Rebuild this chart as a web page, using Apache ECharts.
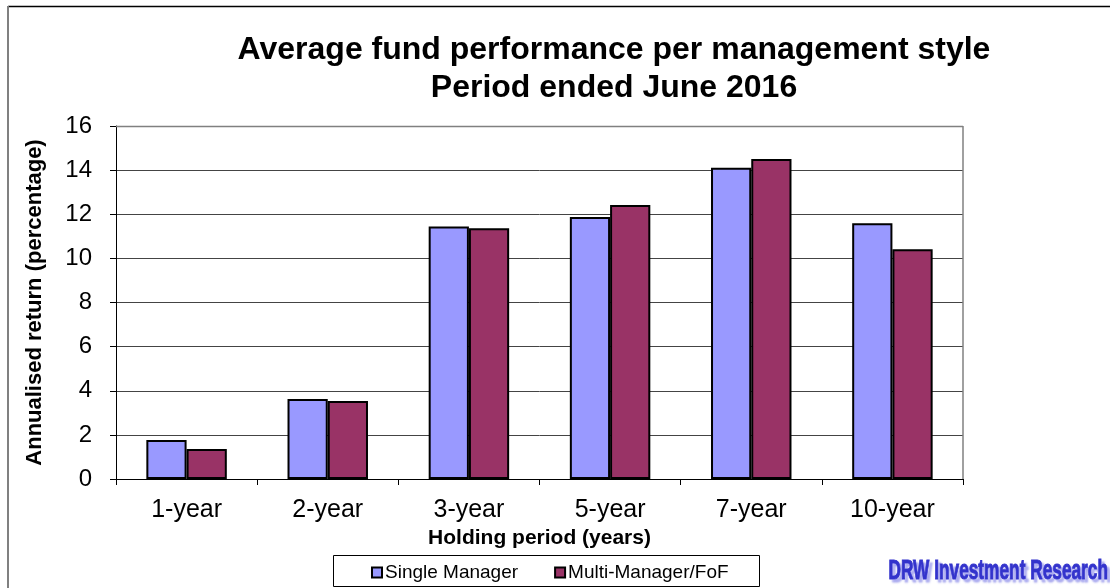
<!DOCTYPE html>
<html>
<head>
<meta charset="utf-8">
<script src="https://cdn.jsdelivr.net/npm/echarts@6/dist/echarts.min.js"></script>
<style>
html, body { margin: 0; padding: 0; background: #fff; }
#main { width: 1110px; height: 588px; }
</style>
</head>
<body>
<div id="main"></div>
<script>
// data
var categories = ['1-year', '2-year', '3-year', '5-year', '7-year', '10-year'];
var singleManager = [1.77, 3.63, 11.44, 11.88, 14.11, 11.59];
var multiManager = [1.36, 3.54, 11.36, 12.42, 14.50, 10.41];
var yTicks = [0, 2, 4, 6, 8, 10, 12, 14, 16];

var myChart = echarts.init(document.getElementById('main'));
var font = 'Arial, "Liberation Sans", sans-serif';

var option = {
    backgroundColor: '#fff',
    animation: false,
    title: {
        text: 'Average fund performance per management style\nPeriod ended June 2016',
        left: 609,
        textAlign: 'center',
        top: 26,
        textStyle: {
            fontFamily: font,
            fontSize: 32,
            fontWeight: 'bold',
            color: '#000',
            lineHeight: 38
        }
    },
    legend: {
        data: ['Single Manager', 'Multi-Manager/FoF'],
        left: 366,
        top: 558,
        icon: 'rect',
        itemWidth: 10,
        itemHeight: 10,
        itemGap: 36,
        textStyle: { fontFamily: font, fontSize: 19, color: '#000', padding: [0, 0, 0, -2] }
    },
    grid: { left: 116, top: 126, right: 147, bottom: 109 },
    xAxis: {
        type: 'category',
        data: categories,
        name: 'Holding period (years)',
        nameLocation: 'middle',
        nameGap: 47,
        nameTextStyle: { fontFamily: font, fontSize: 21, fontWeight: 'bold', color: '#000' },
        axisLine: { lineStyle: { color: '#000', width: 1 } },
        axisTick: { show: true, length: 6, lineStyle: { color: '#000' } },
        axisLabel: { fontFamily: font, fontSize: 25, color: '#000', margin: 19 },
        splitLine: { show: false }
    },
    yAxis: {
        type: 'value',
        min: yTicks[0],
        max: yTicks[yTicks.length - 1],
        interval: 2,
        name: 'Annualised return (percentage)',
        nameLocation: 'middle',
        nameGap: 70,
        nameTextStyle: { fontFamily: font, fontSize: 22, fontWeight: 'bold', color: '#000' },
        axisLine: { show: true, lineStyle: { color: '#000', width: 1 } },
        axisTick: { show: true, length: 6, lineStyle: { color: '#000' } },
        axisLabel: { fontFamily: font, fontSize: 24, color: '#000', margin: 24 },
        splitLine: { show: true, lineStyle: { color: '#444', width: 1 } }
    },
    series: [{
        name: 'Single Manager',
        type: 'bar',
        data: singleManager,
        barGap: '0%',
        barCategoryGap: '43%',
        itemStyle: { color: '#9999ff', borderColor: '#000', borderWidth: 2 }
    }, {
        name: 'Multi-Manager/FoF',
        type: 'bar',
        data: multiManager,
        itemStyle: { color: '#993366', borderColor: '#000', borderWidth: 2 }
    }],
    graphic: [
        // outer frame (top and left only)
        { type: 'line', shape: { x1: 8, y1: 6.5, x2: 1110, y2: 6.5 }, style: { stroke: '#000', lineWidth: 1.5 } },
        { type: 'line', shape: { x1: 8, y1: 6, x2: 8, y2: 588 }, style: { stroke: '#808080', lineWidth: 2 } },
        // plot area frame (top and right)
        { type: 'line', shape: { x1: 116, y1: 126.5, x2: 963, y2: 126.5 }, style: { stroke: '#808080', lineWidth: 1.5 }, z: 5 },
        { type: 'line', shape: { x1: 963, y1: 126, x2: 963, y2: 479 }, style: { stroke: '#808080', lineWidth: 1.5 }, z: 5 },
        // legend box
        { type: 'rect', shape: { x: 333.5, y: 555.5, width: 426, height: 31 }, style: { fill: 'none', stroke: '#000', lineWidth: 1 } },
        // watermark
        { type: 'text', x: 1108, y: 572, scaleX: 0.64, style: {
            text: 'DRW Investment Research', align: 'right', verticalAlign: 'middle',
            font: 'bold 27px "Liberation Sans", Arial, sans-serif',
            fill: '#3333cc', stroke: '#3333cc', lineWidth: 1,
            textShadowColor: 'rgba(120,120,230,0.6)', textShadowOffsetX: 3, textShadowOffsetY: 3, textShadowBlur: 2
        } }
    ]
};

myChart.setOption(option);
</script>
</body>
</html>
